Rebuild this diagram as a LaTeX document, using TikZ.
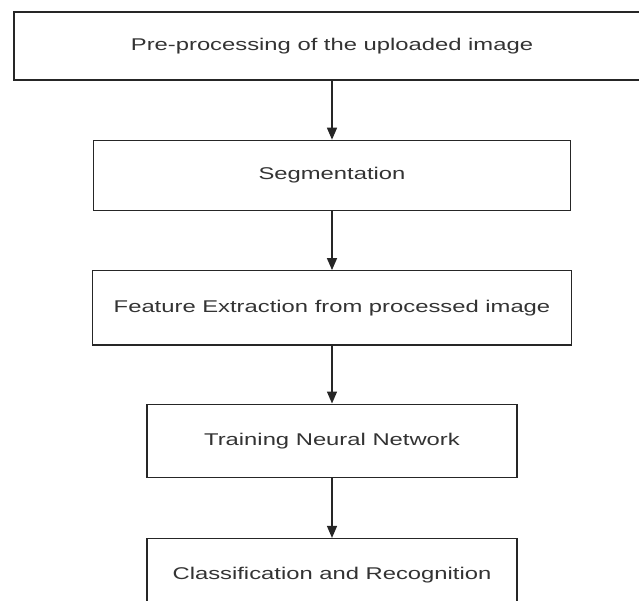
\documentclass[tikz,border=0pt]{standalone}
\usepackage{fontspec}
\setmainfont{Liberation Sans}[FakeStretch=1.4]
\usepackage{tikz}
\usetikzlibrary{positioning,arrows.meta}

\tikzset{
	stage/.style={draw=black!85, line width=1.4pt, fill=white, align=center,
		font=\fontsize{17}{20}\selectfont, text=black!80},
	flow/.style={-{Triangle[length=12pt,width=10pt]}, line width=1.4pt, draw=black!85}
}

\begin{document}
\begin{tikzpicture}
	\path[use as bounding box, clip] (0,0) rectangle (639pt,-601pt);
	\node[stage, minimum width=636pt, minimum height=68pt] (pre) at (332pt,-46pt) {Pre-processing of the uploaded image};
	\node[stage, minimum width=477pt, minimum height=70pt, below=59pt of pre] (seg) {Segmentation};
	\node[stage, minimum width=479pt, minimum height=74pt, below=59pt of seg] (feat) {Feature Extraction from processed image};
	\node[stage, minimum width=370pt, minimum height=73pt, below=58pt of feat] (train) {Training Neural Network};
	\node[stage, minimum width=370pt, minimum height=73pt, below=60pt of train] (cls) {Classification and Recognition};

	\draw[flow] (pre) -- (seg);
	\draw[flow] (seg) -- (feat);
	\draw[flow] (feat) -- (train);
	\draw[flow] (train) -- (cls);
\end{tikzpicture}
\end{document}
